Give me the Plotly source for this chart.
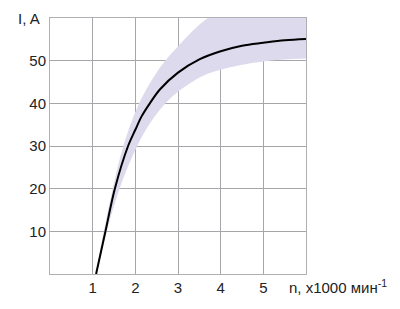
import plotly.graph_objects as go

# Main curve I(n)
curve_n = [1.08, 1.30, 1.52, 1.83, 2.00, 2.15, 2.34, 2.58, 3.00, 3.50, 4.00, 4.50, 5.00, 5.50, 6.00]
curve_i = [0.0, 10.0, 20.0, 30.0, 33.8, 37.0, 40.0, 43.3, 47.2, 50.3, 52.2, 53.5, 54.2, 54.8, 55.1]

# Tolerance band: upper (left) edge and lower (right) edge
band_up_n = [1.08, 1.26, 1.47, 1.72, 2.09, 2.42, 2.70, 3.00, 3.35, 3.70, 4.20, 5.00, 6.00]
band_up_i = [0.0, 10.0, 20.0, 30.0, 40.0, 46.0, 50.0, 53.3, 57.0, 60.0, 62.5, 65.5, 67.5]
band_lo_n = [1.10, 1.33, 1.63, 1.95, 2.29, 2.66, 3.00, 3.55, 4.00, 5.00, 6.00]
band_lo_i = [0.0, 10.0, 20.0, 28.0, 34.5, 39.5, 42.7, 46.3, 47.9, 49.8, 50.5]

x_ticks = [1, 2, 3, 4, 5]
x_labels = ["1", "2", "3", "4", "5"]
y_ticks = [10, 20, 30, 40, 50]
y_labels = ["10", "20", "30", "40", "50"]

FONT = dict(family="Arial, Liberation Sans", size=15, color="#222")

fig = go.Figure()
fig.add_trace(go.Scatter(x=band_lo_n, y=band_lo_i, mode="lines",
                         line=dict(width=0, shape="spline", color="rgba(0,0,0,0)"),
                         hoverinfo="skip", showlegend=False))
fig.add_trace(go.Scatter(x=band_up_n, y=band_up_i, mode="lines", fill="tonexty",
                         fillcolor="rgb(220,218,236)",
                         line=dict(width=0, shape="spline", color="rgba(0,0,0,0)"),
                         hoverinfo="skip", showlegend=False))
fig.add_trace(go.Scatter(x=curve_n, y=curve_i, mode="lines",
                         line=dict(color="black", width=2, shape="spline", smoothing=1.0),
                         showlegend=False))

axis_common = dict(showgrid=True, gridcolor="rgb(165,165,170)", gridwidth=1,
                   zeroline=False, showline=True, linecolor="rgb(175,175,180)",
                   linewidth=1, mirror=True, ticks="", tickfont=FONT,
                   layer="above traces")

fig.update_layout(
    width=400, height=309,
    margin=dict(l=50, r=94, t=18, b=35),
    paper_bgcolor="white", plot_bgcolor="white",
    xaxis=dict(range=[0, 6], tickvals=x_ticks, ticktext=x_labels, **axis_common),
    yaxis=dict(range=[0, 60], tickvals=y_ticks, ticktext=y_labels, **axis_common),
    annotations=[
        dict(text="I, A", xref="paper", yref="paper", x=-0.031, y=1.0,
             xanchor="right", yanchor="middle", showarrow=False, font=FONT),
        dict(text="n, x1000 мин<sup>-1</sup>", xref="paper", yref="paper", x=0.926, y=-0.05,
             xanchor="left", yanchor="middle", showarrow=False, font=FONT),
    ],
)

fig.write_html("out.html")
